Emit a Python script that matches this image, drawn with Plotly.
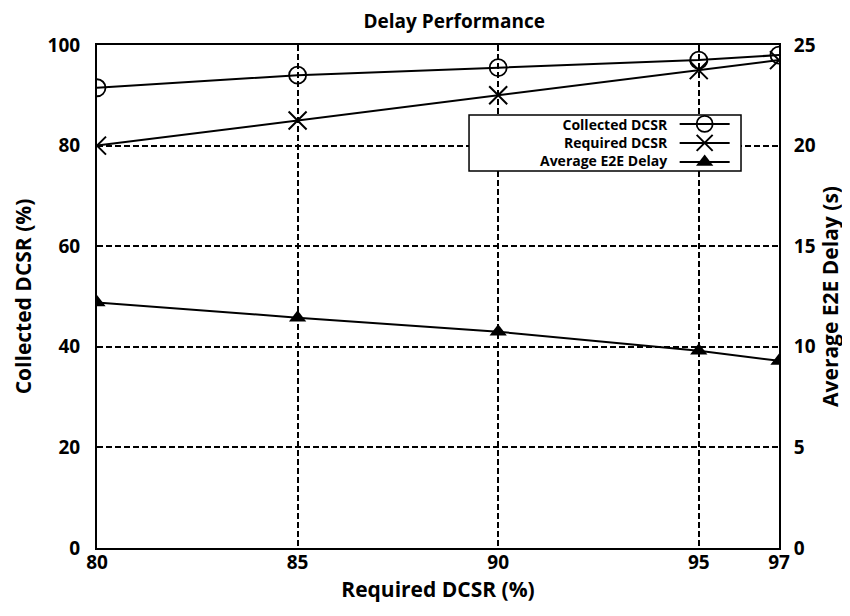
import plotly.graph_objects as go

required_dcsr = [80, 85, 90, 95, 97]
collected_dcsr = [91.5, 94.0, 95.5, 97.0, 98.0]
required_line = [80, 85, 90, 95, 97]
avg_e2e_delay = [12.2, 11.45, 10.75, 9.8, 9.3]

series_names = ["Collected DCSR", "Required DCSR", "Average E2E Delay"]
x_ticks = [80, 85, 90, 95, 97]
y_left_ticks = [0, 20, 40, 60, 80, 100]
y_right_ticks = [0, 5, 10, 15, 20, 25]

FONT = "Open Sans"
W, H = 842, 608  # page body adds an 8px offset in the 850x616 window

fig = go.Figure()
fig.add_trace(go.Scatter(
    x=required_dcsr, y=collected_dcsr, name=series_names[0],
    mode="lines+markers", line=dict(color="black", width=2),
    marker=dict(symbol="circle-open", size=17, color="black", line=dict(width=1.8)),
))
fig.add_trace(go.Scatter(
    x=required_dcsr, y=required_line, name=series_names[1],
    mode="lines+markers", line=dict(color="black", width=2),
    marker=dict(symbol="x-thin-open", size=18, color="black", line=dict(width=2)),
))
fig.add_trace(go.Scatter(
    x=required_dcsr, y=avg_e2e_delay, name=series_names[2], yaxis="y2",
    mode="lines+markers", line=dict(color="black", width=2),
    marker=dict(symbol="triangle-up", size=15, color="black"),
))

# legend box (text right-aligned, symbols to the right as in the reference)
annotations = [
    dict(text="<br>".join(series_names), x=0.840, y=0.8065, xref="paper", yref="paper",
         xanchor="right", yanchor="middle", align="right", showarrow=False,
         font=dict(family=FONT, size=14, weight="bold", color="black"))
]
shapes = [dict(type="rect", xref="paper", yref="paper", x0=0.5455, x1=0.9443, y0=0.7495, y1=0.8609,
               line=dict(color="black", width=1.5), fillcolor="white", layer="above")]

fig.update_layout(
    width=W, height=H,
    margin=dict(l=89, r=71, t=37, b=68),
    paper_bgcolor="white", plot_bgcolor="white",
    font=dict(family=FONT, color="black", size=18, weight="bold"),
    title=dict(text="Delay Performance", x=0.53, xanchor="center", y=0.9786, yanchor="middle",
               font=dict(size=19, family=FONT, weight="bold")),
    xaxis=dict(
        range=[80, 97], tickvals=x_ticks, ticktext=[str(v) for v in x_ticks],
        showline=True, linecolor="black", linewidth=2, mirror=True,
        showgrid=True, gridcolor="black", griddash="6px,3px", gridwidth=1.5,
        ticks="", zeroline=False, ticklabelstandoff=-4, automargin=False,
        tickfont=dict(size=19, family=FONT, weight="bold"),
        title=dict(text="Required DCSR (%)", standoff=5, font=dict(size=21, family=FONT, weight="bold")),
    ),
    yaxis=dict(
        range=[0, 100], tickvals=y_left_ticks,
        showline=True, linecolor="black", linewidth=2, mirror=True,
        showgrid=True, gridcolor="black", griddash="6px,3px", gridwidth=1.5,
        ticks="", zeroline=False, ticklabelstandoff=11, automargin=False,
        tickfont=dict(size=19, family=FONT, weight="bold"),
        title=dict(text="Collected DCSR (%)", standoff=10, font=dict(size=21, family=FONT, weight="bold")),
    ),
    yaxis2=dict(
        range=[0, 25], tickvals=y_right_ticks, overlaying="y", side="right",
        showline=True, linecolor="black", linewidth=2, showgrid=False,
        ticks="", zeroline=False, ticklabelstandoff=9, automargin=False,
        tickfont=dict(size=19, family=FONT, weight="bold"),
        title=dict(text="Average E2E Delay (s)", standoff=9, font=dict(size=21, family=FONT, weight="bold")),
    ),
    legend=dict(
        x=0.847, xanchor="left", y=0.872, yanchor="top",
        bgcolor="rgba(0,0,0,0)", borderwidth=0,
        font=dict(size=1, family=FONT, color="rgba(0,0,0,0)"),
        itemwidth=50, tracegroupgap=0,
    ),
    annotations=annotations,
    shapes=shapes,
    showlegend=True,
)

fig.write_html("out.html")
